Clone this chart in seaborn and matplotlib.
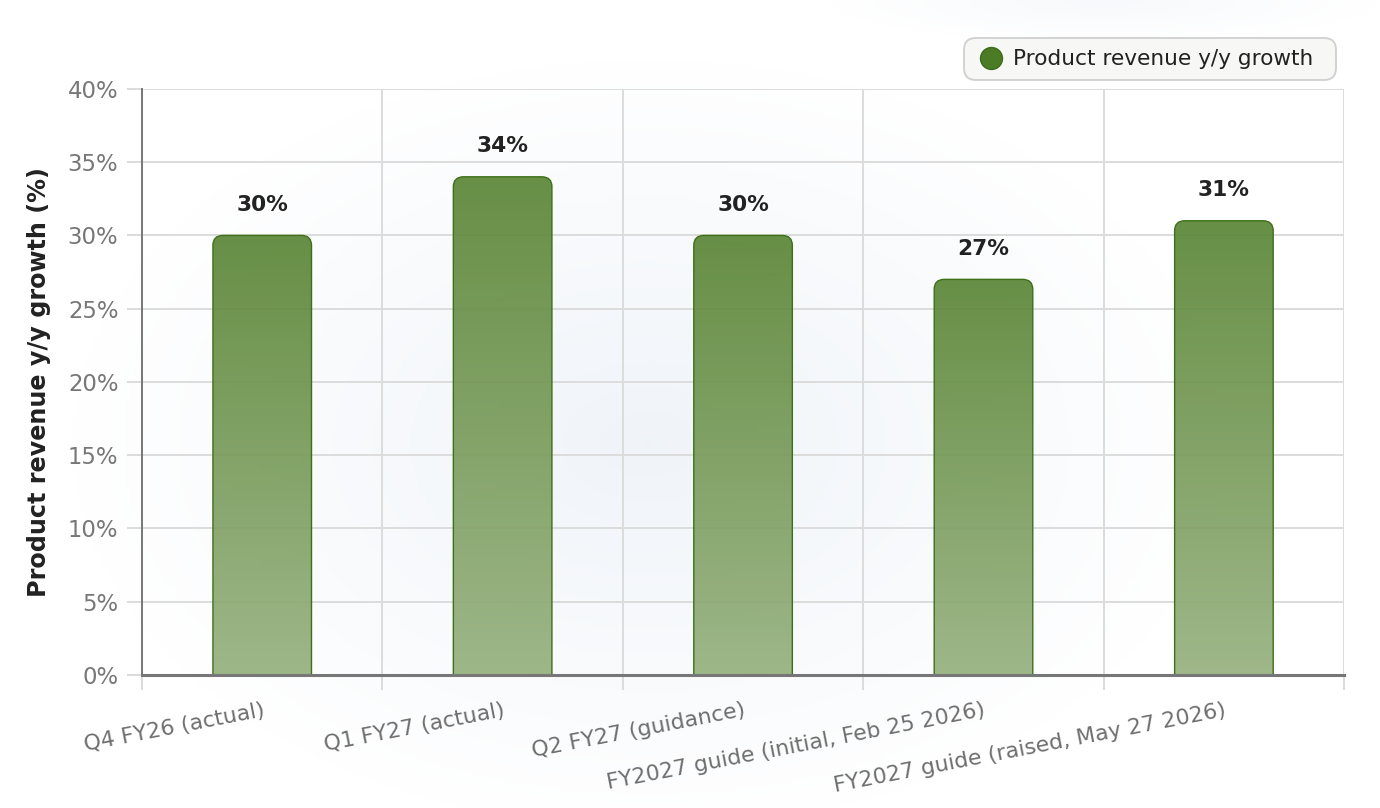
import numpy as np
import pandas as pd
import seaborn as sns
import matplotlib
matplotlib.use("Agg")
from matplotlib import pyplot as plt
from matplotlib.patches import FancyBboxPatch
from matplotlib.colors import LinearSegmentedColormap
from matplotlib.lines import Line2D

# data
categories = [
    'Q4 FY26 (actual)',
    'Q1 FY27 (actual)',
    'Q2 FY27 (guidance)',
    'FY2027 guide (initial, Feb 25 2026)',
    'FY2027 guide (raised, May 27 2026)',
]
growth = [30, 34, 30, 27, 31]
yticks = [0, 5, 10, 15, 20, 25, 30, 35, 40]
series_name = 'Product revenue y/y growth'

df = pd.DataFrame({'period': categories, 'growth': growth})

sns.set_theme(style='white')
plt.rcParams['font.family'] = ['DejaVu Sans']

fig = plt.figure(figsize=(6.9, 4.04), dpi=200)

# faint radial background (centre glow + a touch in the top right corner)
bg = fig.add_axes([0, 0, 1, 1], zorder=-10)
yy, xx = np.mgrid[0:1:200j, 0:1:340j]
r1 = np.sqrt(((xx - 0.47) / 0.42) ** 2 + ((yy - 0.45) / 0.48) ** 2)
r2 = np.sqrt(((xx - 0.8) / 0.2) ** 2 + ((yy - 1.0) / 0.05) ** 2)
shade = np.clip(1 - r1, 0, 1) * 0.85 + np.clip(1 - r2, 0, 1) * 0.45
bg_cmap = LinearSegmentedColormap.from_list('bg', ['#ffffff', '#edf2f8'])
bg.imshow(shade, cmap=bg_cmap, vmin=0, vmax=1, aspect='auto',
          extent=[0, 1, 0, 1], origin='lower')
bg.axis('off')

ax = fig.add_axes([0.1029, 0.1646, 0.8711, 0.7254])
ax.set_facecolor('none')

sns.barplot(data=df, x='period', y='growth', width=0.41, ax=ax)

ax.set_xlim(-0.5, len(categories) - 0.5)
ax.set_ylim(0, 40)

bar_cmap = LinearSegmentedColormap.from_list('bar', ['#96b17f', '#5a8535'])
grad = np.linspace(0, 1, 256).reshape(-1, 1)

for p, val in zip(list(ax.patches), growth):
    x0 = p.get_x()
    w = p.get_width()
    h = p.get_height()
    p.set_visible(False)
    box = FancyBboxPatch((x0, -2), w, h + 2,
                         boxstyle='round,pad=0,rounding_size=0.042',
                         mutation_aspect=16.3,
                         facecolor='none', edgecolor='#3d7018',
                         linewidth=0.5, zorder=3)
    ax.add_patch(box)
    im = ax.imshow(grad, cmap=bar_cmap, extent=[x0, x0 + w, 0, h],
                   origin='lower', aspect='auto', alpha=0.92, zorder=2)
    im.set_clip_path(box)
    ax.annotate(f'{val}%', (x0 + w / 2, h), xytext=(0, 7.5),
                textcoords='offset points', ha='center', va='bottom',
                fontsize=7.8, fontweight='bold', color='#222222')

ax.set_xlim(-0.5, len(categories) - 0.5)
ax.set_ylim(0, 40)

# grid and ticks
ax.set_yticks(yticks)
ax.set_yticklabels([f'{t}%' for t in yticks])
ax.set_xticks(range(len(categories)))
ax.set_xticks(np.arange(-0.5, len(categories), 1), minor=True)
ax.set_xticklabels(categories, rotation=11, ha='right', va='top',
                   rotation_mode='anchor')
ax.grid(axis='y', which='major', color='#dcdcdc', linewidth=0.7, zorder=0)
ax.grid(axis='x', which='minor', color='#dcdcdc', linewidth=0.7, zorder=0)
ax.set_axisbelow(True)

ax.tick_params(axis='x', which='major', bottom=False, length=0, pad=9,
               labelsize=7.9, labelcolor='#6e6e6e')
ax.tick_params(axis='x', which='minor', bottom=True, length=5.5, width=0.7,
               color='#dcdcdc')
ax.tick_params(axis='y', left=True, length=5.5, width=0.7, color='#dcdcdc',
               pad=3, labelsize=8.2, labelcolor='#777777')

for s in ['top', 'right']:
    ax.spines[s].set_visible(False)
ax.spines['left'].set_color('#777777')
ax.spines['left'].set_linewidth(0.7)
ax.spines['bottom'].set_color('#777777')
ax.spines['bottom'].set_linewidth(1.1)
ax.spines['left'].set_zorder(4)
ax.spines['bottom'].set_zorder(4)

ax.set_xlabel('')
ax.set_ylabel('Product revenue y/y growth (%)', fontsize=8.6, fontweight='bold',
              color='#222222', labelpad=6)

handle = Line2D([], [], marker='o', linestyle='none', markersize=7.9,
                markerfacecolor='#4c7b26', markeredgecolor='#3d6a1c',
                markeredgewidth=0.5)
leg = fig.legend([handle], [series_name], loc='lower left',
                 bbox_to_anchor=(964 / 1380, 1 - 80 / 808, 372 / 1380, 0.0),
                 bbox_transform=fig.transFigure, borderaxespad=0, mode='expand',
                 fontsize=7.8, frameon=True, fancybox=True, handletextpad=0.25,
                 borderpad=0.5, handlelength=1.5, labelcolor='#222222')
frame = leg.get_frame()
frame.set_facecolor('#f7f7f5')
frame.set_edgecolor('#d2d2d2')
frame.set_linewidth(0.7)
frame.set_alpha(1)
frame.set_boxstyle('round,pad=0,rounding_size=0.55')

fig.savefig('out.png', dpi=200)
